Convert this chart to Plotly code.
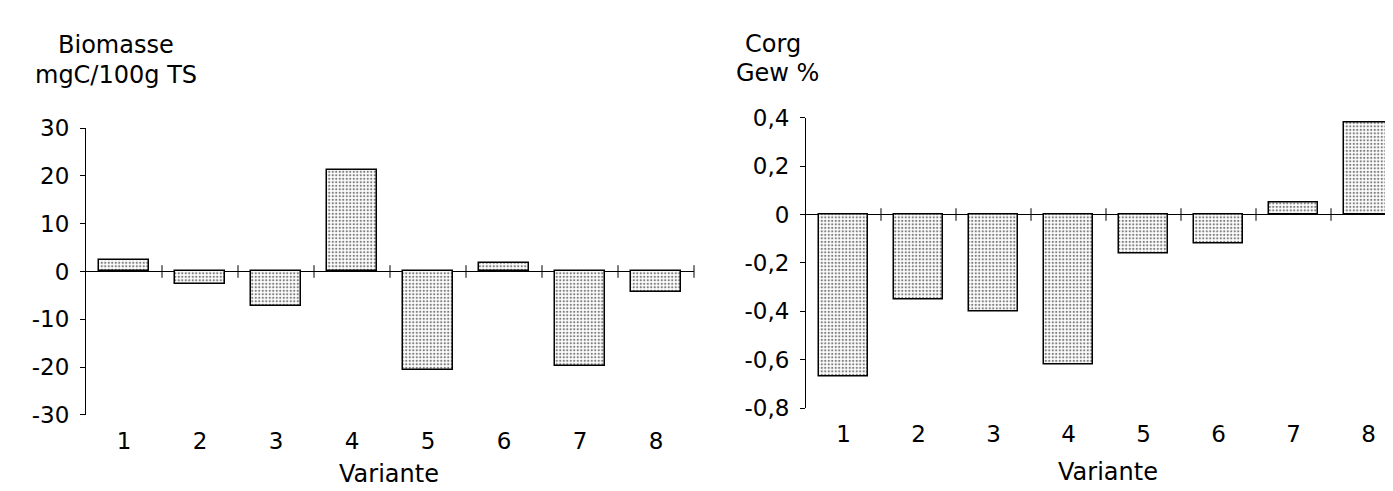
import plotly.graph_objects as go

W, H = 1393, 491

variante = [1, 2, 3, 4, 5, 6, 7, 8]
biomasse = [2.3, -2.7, -7.3, 21.2, -20.5, 1.8, -19.8, -4.2]
corg = [-0.67, -0.35, -0.40, -0.62, -0.16, -0.12, 0.05, 0.38]

bio_ticks = [30, 20, 10, 0, -10, -20, -30]
bio_ticktext = ["30", "20", "10", "0", "-10", "-20", "-30"]
corg_ticks = [0.4, 0.2, 0, -0.2, -0.4, -0.6, -0.8]
corg_ticktext = ["0,4", "0,2", "0", "-0,2", "-0,4", "-0,6", "-0,8"]

FONT = "DejaVu Sans, Verdana, sans-serif"
TICK_FS = 23
TITLE_FS = 24

def px_x(p):
    return p / W

def px_y(p):
    return 1 - p / H

boundaries = [v + 0.5 for v in variante]

pattern = dict(shape=".", fgcolor="black", bgcolor="white", size=3.5, solidity=0.33)
bar_line = dict(color="black", width=1.5)

fig = go.Figure()
fig.add_trace(go.Bar(x=variante, y=biomasse, width=0.66, xaxis="x", yaxis="y",
                     marker=dict(color="white", pattern=pattern, line=bar_line),
                     showlegend=False))
fig.add_trace(go.Scatter(x=boundaries, y=[0] * len(boundaries), xaxis="x", yaxis="y",
                         mode="markers", cliponaxis=False,
                         marker=dict(symbol="line-ns", size=9, line=dict(color="black", width=1)),
                         showlegend=False))
fig.add_trace(go.Bar(x=variante, y=corg, width=0.65, xaxis="x2", yaxis="y2",
                     marker=dict(color="white", pattern=pattern, line=bar_line),
                     showlegend=False))
fig.add_trace(go.Scatter(x=boundaries[:-1], y=[0] * (len(boundaries) - 1), xaxis="x2", yaxis="y2",
                         mode="markers", cliponaxis=True,
                         marker=dict(symbol="line-ns", size=9, line=dict(color="black", width=1)),
                         showlegend=False))

xcommon = dict(showline=False, ticks="", showgrid=False, zeroline=False,
               tickmode="array", tickvals=variante, ticktext=[str(v) for v in variante],
               tickfont=dict(family=FONT, size=TICK_FS, color="black"), ticklabelstandoff=10)
ycommon = dict(showline=True, linecolor="black", linewidth=1, ticks="outside", ticklen=5,
               tickcolor="black", tickwidth=1, showgrid=False, zeroline=True,
               zerolinecolor="black", zerolinewidth=1.2,
               tickfont=dict(family=FONT, size=TICK_FS, color="black"), ticklabelstandoff=6)

fig.update_layout(
    width=W, height=H,
    margin=dict(l=0, r=0, t=0, b=0),
    paper_bgcolor="white", plot_bgcolor="white",
    bargap=0,
    xaxis=dict(domain=[px_x(78), px_x(686)], range=[0.5, 8.5], anchor="y", **xcommon),
    yaxis=dict(domain=[px_y(416), px_y(113)], range=[-30, 30], anchor="x",
               tickmode="array", tickvals=bio_ticks, ticktext=bio_ticktext, **ycommon),
    xaxis2=dict(domain=[px_x(798), 1], range=[0.5, 0.5 + (W - 798) / 75.0], anchor="y2", **xcommon),
    yaxis2=dict(domain=[px_y(409), px_y(102)], range=[-0.8, 0.4], anchor="x2",
                tickmode="array", tickvals=corg_ticks, ticktext=corg_ticktext, **ycommon),
    yaxis3=dict(domain=[px_y(416), px_y(113)], range=[-30, 30], anchor="x", overlaying="y",
                showline=False, ticks="inside", ticklen=4, tickcolor="black", tickwidth=1,
                showticklabels=False, showgrid=False, zeroline=False,
                tickmode="array", tickvals=bio_ticks),
    yaxis4=dict(domain=[px_y(409), px_y(102)], range=[-0.8, 0.4], anchor="x2", overlaying="y2",
                showline=False, ticks="inside", ticklen=4, tickcolor="black", tickwidth=1,
                showticklabels=False, showgrid=False, zeroline=False,
                tickmode="array", tickvals=corg_ticks),
)

annots = [
    ("Biomasse", 108, 25),
    ("mgC/100g TS", 108, 57),
    ("Variante", 381, 478),
    ("Corg", 765, 24),
    ("Gew %", 770, 55),
    ("Variante", 1100, 476),
]
for text, x, y in annots:
    fig.add_annotation(text=text, x=px_x(x), y=px_y(y), xref="paper", yref="paper",
                       xanchor="center", yanchor="middle", showarrow=False,
                       font=dict(family=FONT, size=TITLE_FS, color="black"))

fig.write_html("out.html")
